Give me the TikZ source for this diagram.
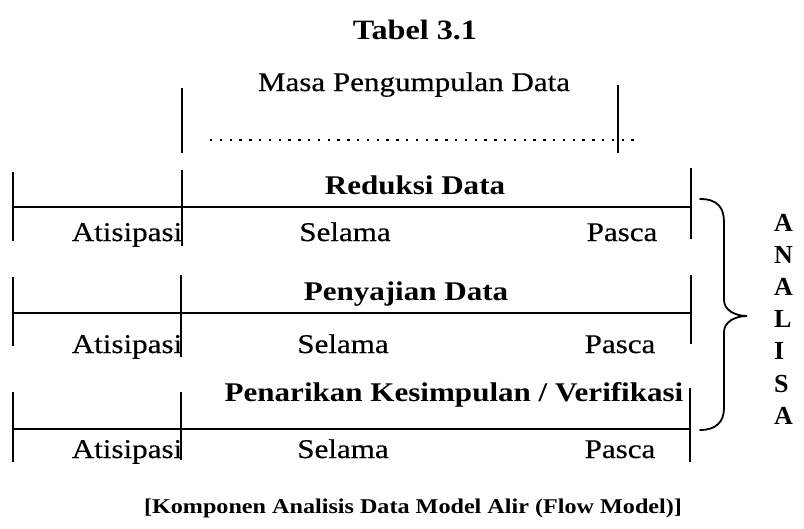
\documentclass[tikz,border=0pt]{standalone}
\usepackage{fontspec}
\setmainfont{Liberation Serif}
\newfontfamily\heavyserif[FakeBold=0.4]{Liberation Serif}
\usepackage{graphicx}
% the printed type is set slightly wide
\newcommand\widetype[1]{\scalebox{1.15}[1]{#1}}
\tikzset{
  rule/.style={line width=1.8pt, black},
  lbl/.style={anchor=base, inner sep=0pt, font=\fontsize{27}{32}\heavyserif},
  head/.style={anchor=base, inner sep=0pt, font=\fontsize{27}{32}\selectfont\bfseries},
  letter/.style={anchor=base, inner sep=0pt, font=\fontsize{26}{30}\selectfont\bfseries},
  brace/.style={line width=1.8pt, black, line cap=round},
}
\begin{document}
\begin{tikzpicture}[x=1pt, y=-1pt]
\useasboundingbox (0,0) rectangle (804,528);

% headings
\node[head, font=\fontsize{28}{33}\selectfont\bfseries] (title) at (415,39) {\widetype{Tabel 3.1}};
\node[lbl] (masa) at (414,91) {\widetype{Masa Pengumpulan Data}};

% collection period
\coordinate (mL1) at (182,88);  \coordinate (mL2) at (182,153);
\coordinate (mR1) at (618,85);  \coordinate (mR2) at (618,153);
\coordinate (d1) at (210,140);  \coordinate (d2) at (640,140);
\draw[rule] (mL1) -- (mL2);
\draw[rule] (mR1) -- (mR2);
\draw[line width=2.6pt, dash pattern=on 2.4pt off 7.4pt] (d1) -- (d2);

% row 1: Reduksi Data
\node[head] (red) at (415,194) {\widetype{Reduksi Data}};
\coordinate (a1) at (13,172);  \coordinate (a2) at (13,241);
\coordinate (b1) at (182,170); \coordinate (b2) at (182,246);
\coordinate (c1) at (691,168); \coordinate (c2) at (691,239);
\coordinate (h1) at (13,207);  \coordinate (h2) at (691,207);
\draw[rule] (a1) -- (a2);
\draw[rule] (b1) -- (b2);
\draw[rule] (c1) -- (c2);
\draw[rule] (h1) -- (h2);
\node[lbl] (at1) at (127,241) {\widetype{Atisipasi}};
\node[lbl] (se1) at (345,241) {\widetype{Selama}};
\node[lbl] (pa1) at (622,241) {\widetype{Pasca}};

% row 2: Penyajian Data
\node[head] (pen) at (406,300) {\widetype{Penyajian Data}};
\coordinate (a3) at (13,277);  \coordinate (a4) at (13,346);
\coordinate (b3) at (181,275); \coordinate (b4) at (181,357);
\coordinate (c3) at (691,275); \coordinate (c4) at (691,344);
\coordinate (h3) at (13,313);  \coordinate (h4) at (691,313);
\draw[rule] (a3) -- (a4);
\draw[rule] (b3) -- (b4);
\draw[rule] (c3) -- (c4);
\draw[rule] (h3) -- (h4);
\node[lbl] (at2) at (127,353) {\widetype{Atisipasi}};
\node[lbl] (se2) at (343,353) {\widetype{Selama}};
\node[lbl] (pa2) at (620,353) {\widetype{Pasca}};

% row 3: Penarikan Kesimpulan / Verifikasi
\node[head] (ver) at (454,401) {\widetype{Penarikan Kesimpulan / Verifikasi}};
\coordinate (a5) at (13,392);  \coordinate (a6) at (13,462);
\coordinate (b5) at (181,392); \coordinate (b6) at (181,460);
\coordinate (c5) at (690,388); \coordinate (c6) at (690,462);
\coordinate (h5) at (13,429);  \coordinate (h6) at (690,429);
\draw[rule] (a5) -- (a6);
\draw[rule] (b5) -- (b6);
\draw[rule] (c5) -- (c6);
\draw[rule] (h5) -- (h6);
\node[lbl] (at3) at (127,458) {\widetype{Atisipasi}};
\node[lbl] (se3) at (343,458) {\widetype{Selama}};
\node[lbl] (pa3) at (620,458) {\widetype{Pasca}};

% curly brace grouping the three components
\coordinate (bt) at (700,199);
\coordinate (tip) at (747,316);
\coordinate (bb) at (700,430);
\draw[brace] (bt) .. controls (718,199) and (724,208) .. (724,222) -- (724,300)
  .. controls (724,310) and (735,316) .. (tip)
  .. controls (735,316) and (724,322) .. (724,332) -- (724,408)
  .. controls (724,422) and (716,430) .. (bb);

% vertical word
\foreach \ch [count=\i from 0] in {A,N,A,L,I,S,A}{
  \node[letter, anchor=base west] (w\i) at (774,{231+32.2*\i}) {\ch};
}

% caption
\node[head, font=\fontsize{21}{26}\selectfont\bfseries] (cap) at (413,513)
  {\widetype{[Komponen Analisis Data Model Alir (Flow Model)]}};
\end{tikzpicture}
\end{document}
